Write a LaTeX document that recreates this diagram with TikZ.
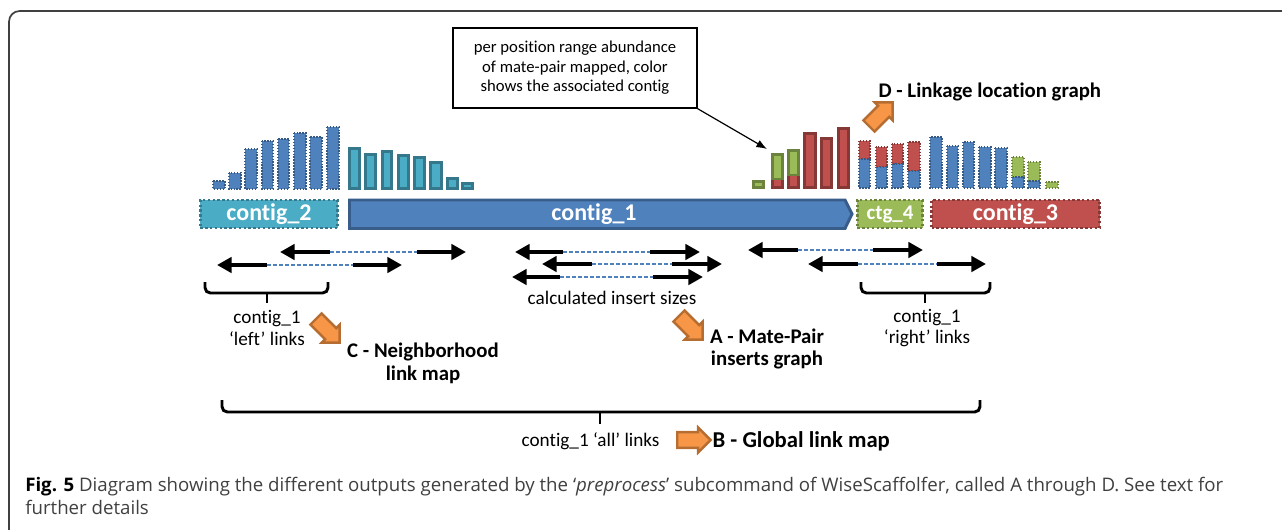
\documentclass[tikz,border=0pt]{standalone}
\usepackage{fontspec}
\setmainfont{Carlito}[Ligatures=NoCommon]
\newfontfamily\capfont{Open Sans}
\usetikzlibrary{arrows.meta,shapes.arrows}

\definecolor{cblue}{HTML}{4F81BD}
\definecolor{cbluedark}{HTML}{385D8A}
\definecolor{cteal}{HTML}{4BACC6}
\definecolor{ctealdark}{HTML}{31859C}
\definecolor{cgreen}{HTML}{9BBB59}
\definecolor{cgreendark}{HTML}{71893F}
\definecolor{cred}{HTML}{C0504D}
\definecolor{creddark}{HTML}{8C3836}
\definecolor{corange}{HTML}{F79646}
\definecolor{corangedark}{HTML}{B66D31}

\tikzset{
  dotbar/.style={fill=#1, draw=#1!70!black, line width=1.1pt, dash pattern=on 1.1pt off 1.1pt},
  fullbar/.style={fill=#1, draw=#1!70!black, line width=2.2pt},
  contigbox/.style={rectangle, fill=#1, draw=#1!70!black, line width=1.8pt, dash pattern=on 1.8pt off 1.8pt,
    minimum height=21pt, inner sep=0pt, text=white, font=\fontsize{18}{20}\selectfont\bfseries},
  readarrow/.style={line width=3pt, -{Triangle[length=11pt,width=11.5pt]}},
  insertline/.style={cblue, line width=0.8pt, dash pattern=on 3pt off 1.5pt},
  bracket/.style={line width=2.2pt, rounded corners=4pt},
  outarrow/.style={single arrow, fill=corange, draw=corangedark, line width=1.8pt, minimum height=25pt,
    single arrow head extend=3.5pt, inner sep=5pt},
  plainlbl/.style={align=center, inner sep=1pt, font=\fontsize{14.4}{16}\selectfont},
  outlbl/.style={align=center, inner sep=1pt, font=\fontsize{15.6}{17}\selectfont\bfseries}
}

\begin{document}
\begin{tikzpicture}[x=0.75pt,y=-0.75pt]
      \clip (0,0) rectangle (1282,529);
      \useasboundingbox (0,0) rectangle (1282,529);

      % CADRE
      \draw[line width=1.3pt, black!75, rounded corners=8pt] (9,11) rectangle (1320,570);

      % COUVERTURE CONTIG_2
      \filldraw[dotbar=cblue] (213,181) rectangle (225,189);
      \filldraw[dotbar=cblue] (229,173) rectangle (241,189);
      \filldraw[dotbar=cblue] (245,149) rectangle (257,189);
      \filldraw[dotbar=cblue] (262,141) rectangle (273,189);
      \filldraw[dotbar=cblue] (278,139) rectangle (289,189);
      \filldraw[dotbar=cblue] (294,133) rectangle (306,189);
      \filldraw[dotbar=cblue] (310,137) rectangle (322,189);
      \filldraw[dotbar=cblue] (327,127) rectangle (339,189);

      % COUVERTURE CONTIG_1 GAUCHE
      \filldraw[fullbar=cteal] (349.5,148.5) rectangle (359.5,188.5);
      \filldraw[fullbar=cteal] (365.5,154.5) rectangle (375.5,188.5);
      \filldraw[fullbar=cteal] (382.5,151.5) rectangle (391.5,188.5);
      \filldraw[fullbar=cteal] (398.5,155.5) rectangle (408.5,188.5);
      \filldraw[fullbar=cteal] (414.5,157.5) rectangle (424.5,188.5);
      \filldraw[fullbar=cteal] (430.5,162.5) rectangle (441.5,188.5);
      \filldraw[fullbar=cteal] (447.5,178.5) rectangle (457.5,188.5);
      \filldraw[fullbar=cteal] (462.5,183.5) rectangle (472.5,188.5);

      % COUVERTURE CONTIG_1 DROITE
      \filldraw[fullbar=cgreen] (753.5,181.5) rectangle (763.5,187.5);
      \filldraw[fullbar=cred] (772.5,179) rectangle (782.5,187.5);
      \filldraw[fullbar=cgreen] (772.5,154.5) rectangle (782.5,179);
      \filldraw[fullbar=cred] (788.5,175) rectangle (798.5,187.5);
      \filldraw[fullbar=cgreen] (788.5,150.5) rectangle (798.5,175);
      \filldraw[fullbar=cred] (804.5,133.5) rectangle (815.5,187.5);
      \filldraw[fullbar=cred] (821.5,138.5) rectangle (831.5,187.5);
      \filldraw[fullbar=cred] (838.5,128.5) rectangle (848.5,187.5);

      % COUVERTURE CTG_4
      \filldraw[dotbar=cred] (859,141) rectangle (870,159);
      \filldraw[dotbar=cblue] (859,159) rectangle (870,188);
      \filldraw[dotbar=cred] (876,147) rectangle (887,167);
      \filldraw[dotbar=cblue] (876,167) rectangle (887,188);
      \filldraw[dotbar=cred] (892,144) rectangle (903,164);
      \filldraw[dotbar=cblue] (892,164) rectangle (903,188);
      \filldraw[dotbar=cred] (908,142) rectangle (920,171);
      \filldraw[dotbar=cblue] (908,171) rectangle (920,188);

      % COUVERTURE CONTIG_3
      \filldraw[dotbar=cblue] (930,137) rectangle (942,188);
      \filldraw[dotbar=cblue] (947,146) rectangle (958,188);
      \filldraw[dotbar=cblue] (963,142) rectangle (974,188);
      \filldraw[dotbar=cblue] (979,147) rectangle (991,188);
      \filldraw[dotbar=cblue] (995,148) rectangle (1007,188);
      \filldraw[dotbar=cgreen] (1012,157) rectangle (1024,177);
      \filldraw[dotbar=cblue] (1012,177) rectangle (1024,188);
      \filldraw[dotbar=cgreen] (1028,162) rectangle (1040,181);
      \filldraw[dotbar=cblue] (1028,181) rectangle (1040,188);
      \filldraw[dotbar=cgreen] (1046,182) rectangle (1058,188);

      % CONTIGS
      \node[contigbox=cteal, minimum width=103pt] (contig2) at (269,214) {contig\_2};
      \filldraw[fill=cblue, draw=cbluedark, line width=2.2pt]
        (349.5,200) -- (845,200) -- (852,214) -- (845,228.5) -- (349.5,228.5) -- cycle;
      \node[text=white, inner sep=1pt, font=\fontsize{18}{20}\selectfont\bfseries] (contig1) at (594,214) {contig\_1};
      \node[contigbox=cgreen, minimum width=49pt, font=\fontsize{15.7}{18}\selectfont\bfseries] (ctg4) at (890,214) {ctg\_4};
      \node[contigbox=cred, minimum width=126pt] (contig3) at (1015.5,214) {contig\_3};

      % BULLE
      \node[draw, line width=1.1pt, fill=white, align=center, minimum width=183pt, minimum height=60pt,
        font=\fontsize{12.5}{14.6}\selectfont] (callout) at (575,68)
        {per position range abundance\\of mate-pair mapped, color\\shows the associated contig};
      \coordinate (covtip) at (767,149);
      \draw[line width=0.9pt, -{Latex[length=8pt,width=6pt]}] (callout.south east) -- (covtip);

      % PAIRES GAUCHE
      \coordinate (P1a) at (280,252);
      \coordinate (P1b) at (330,252);
      \coordinate (P1c) at (417,252);
      \coordinate (P1d) at (466,252);
      \coordinate (P2a) at (217,265);
      \coordinate (P2b) at (267,265);
      \coordinate (P2c) at (353,265);
      \coordinate (P2d) at (402,265);
      % PAIRES MILIEU
      \coordinate (P3a) at (515,252);
      \coordinate (P3b) at (563,252);
      \coordinate (P3c) at (650,252);
      \coordinate (P3d) at (700,252);
      \coordinate (P4a) at (542,264);
      \coordinate (P4b) at (592,264);
      \coordinate (P4c) at (672,264);
      \coordinate (P4d) at (722,264);
      \coordinate (P5a) at (512,277);
      \coordinate (P5b) at (560,277);
      \coordinate (P5c) at (653,277);
      \coordinate (P5d) at (703,277);
      % PAIRES DROITE
      \coordinate (P6a) at (748,250);
      \coordinate (P6b) at (798,250);
      \coordinate (P6c) at (873,250);
      \coordinate (P6d) at (923,250);
      \coordinate (P7a) at (808,264);
      \coordinate (P7b) at (858,264);
      \coordinate (P7c) at (937,264);
      \coordinate (P7d) at (986,264);

      \draw[insertline] (P1b) -- (P1c);
      \draw[insertline] (P2b) -- (P2c);
      \draw[insertline] (P3b) -- (P3c);
      \draw[insertline] (P4b) -- (P4c);
      \draw[insertline] (P5b) -- (P5c);
      \draw[insertline] (P6b) -- (P6c);
      \draw[insertline] (P7b) -- (P7c);
      \draw[readarrow] (P1b) -- (P1a);
      \draw[readarrow] (P1c) -- (P1d);
      \draw[readarrow] (P2b) -- (P2a);
      \draw[readarrow] (P2c) -- (P2d);
      \draw[readarrow] (P3b) -- (P3a);
      \draw[readarrow] (P3c) -- (P3d);
      \draw[readarrow] (P4b) -- (P4a);
      \draw[readarrow] (P4c) -- (P4d);
      \draw[readarrow] (P5b) -- (P5a);
      \draw[readarrow] (P5c) -- (P5d);
      \draw[readarrow] (P6b) -- (P6a);
      \draw[readarrow] (P6c) -- (P6d);
      \draw[readarrow] (P7b) -- (P7a);
      \draw[readarrow] (P7c) -- (P7d);

      % ACCOLADES
      \draw[bracket] (205,282) -- (205,293) -- (328,293) -- (328,282);
      \draw[bracket] (267,293) -- (267,303);
      \draw[bracket] (861,282) -- (861,293) -- (990,293) -- (990,282);
      \draw[bracket] (925,293) -- (925,303);
      \draw[bracket] (222,400) -- (222,412) -- (980,412) -- (980,400);
      \draw[bracket] (600,412) -- (600,424);

      % TEXTES
      \node[plainlbl] (leftlinks) at (267,328) {contig\_1\\‘left’ links};
      \node[plainlbl] (rightlinks) at (927,328) {contig\_1\\‘right’ links};
      \node[plainlbl] (insizes) at (612,298) {calculated insert sizes};
      \node[plainlbl, anchor=west] (alllinks) at (520,441) {contig\_1 ‘all’ links};

      % SORTIES
      \node[outarrow, rotate=-45] (arrC) at (325,328) {};
      \node[outarrow, rotate=-45] (arrA) at (688,325) {};
      \node[outarrow, rotate=45] (arrD) at (878,117) {};
      \node[outarrow] (arrB) at (690,440) {};
      \node[outlbl] (outC) at (423,363) {C - Neighborhood\\link map};
      \node[outlbl] (outA) at (767,349) {A - Mate-Pair\\inserts graph};
      \node[outlbl, anchor=west] (outD) at (877,92) {D - Linkage location graph};
      \node[outlbl, anchor=west, font=\fontsize{17}{19}\selectfont\bfseries] (outB) at (711,441) {B - Global link map};

      % LEGENDE
      \node[anchor=base west, inner sep=0pt, text=black!75, font=\capfont\fontsize{14}{16}\selectfont] (cap1) at (25,491)
        {{\bfseries\color{black}Fig. 5} Diagram showing the different outputs generated by the ‘\textit{preprocess}’ subcommand of WiseScaffolfer, called A through D. See text for};
      \node[anchor=base west, inner sep=0pt, text=black!75, font=\capfont\fontsize{14}{16}\selectfont] (cap2) at (25,514)
        {further details};
\end{tikzpicture}
\end{document}
